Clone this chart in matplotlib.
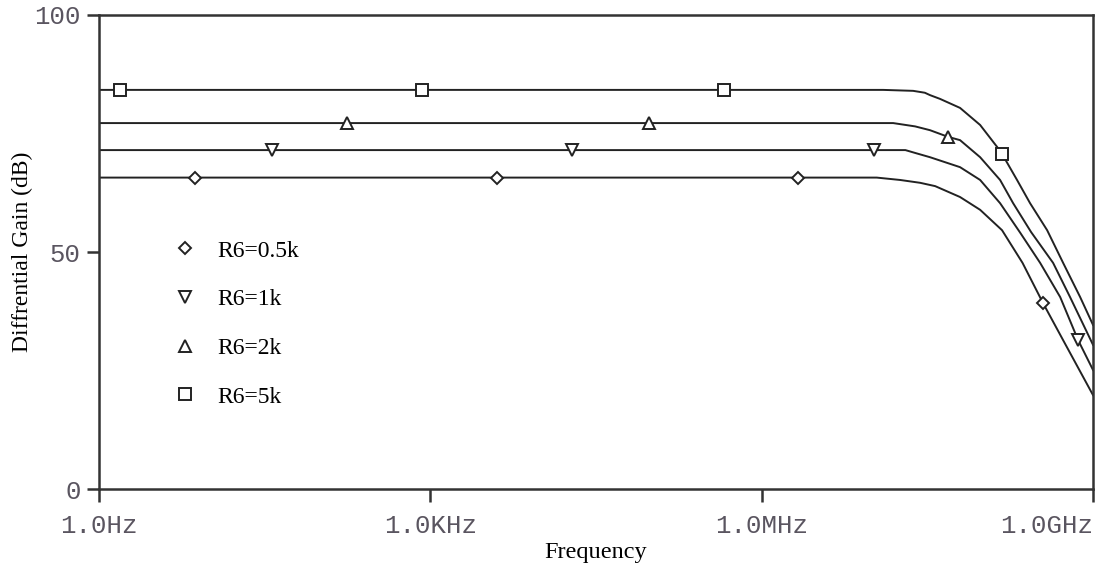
import matplotlib
matplotlib.use('Agg')
import matplotlib.pyplot as plt
from matplotlib.lines import Line2D
from matplotlib.ticker import FixedLocator, NullLocator

# gain curves: frequency (Hz) and gain (dB)
f_05k = [1, 1.1e7, 1.79e7, 2.72e7, 3.72e7, 6.25e7, 9.5e7, 1.5e8, 2.3e8, 3.53e8, 5.36e8, 1e9]
g_05k = [65.7, 65.7, 65.2, 64.6, 63.9, 61.6, 58.9, 54.6, 47.7, 39.2, 31.4, 19.8]

f_1k = [1, 2.0e7, 2.45e7, 3.34e7, 6.25e7, 9.5e7, 1.44e8, 2.2e8, 3.32e8, 5.04e8, 7.33e8, 1e9]
g_1k = [71.5, 71.5, 70.9, 70.0, 67.9, 65.2, 60.3, 54.0, 47.7, 40.5, 31.4, 25.1]

f_2k = [1, 1.55e7, 2.45e7, 3.34e7, 4.86e7, 6.25e7, 9.5e7, 1.44e8, 1.89e8, 2.75e8, 4.35e8, 6.19e8, 1e9]
g_2k = [77.2, 77.2, 76.5, 75.7, 74.3, 73.6, 70.0, 65.2, 60.3, 54.2, 47.7, 40.5, 30.4]

f_5k = [1, 1.26e7, 2.35e7, 3.0e7, 3.34e7, 4.12e7, 6.25e7, 9.5e7, 1.35e8, 1.5e8, 2.05e8, 2.69e8, 3.84e8, 5.36e8, 7.64e8, 1e9]
g_5k = [84.2, 84.2, 84.0, 83.6, 83.1, 82.3, 80.4, 76.8, 72.2, 70.7, 65.2, 60.3, 54.6, 47.7, 40.5, 34.6]

# marker positions
mf_05k = [7.4, 4.0e3, 2.13e6, 3.53e8]
mg_05k = [65.7, 65.7, 65.7, 39.2]
mf_1k = [36.6, 1.92e4, 1.04e7, 7.33e8]
mg_1k = [71.5, 71.5, 71.5, 31.4]
mf_2k = [175, 9.55e4, 4.86e7]
mg_2k = [77.2, 77.2, 74.3]
mf_5k = [1.55, 841, 4.56e5, 1.5e8]
mg_5k = [84.2, 84.2, 84.2, 70.7]

labels = ['R6=0.5k', 'R6=1k', 'R6=2k', 'R6=5k']
xticks = [1, 1e3, 1e6, 1e9]
xticklabels = ['1.0Hz', '1.0KHz', '1.0MHz', '1.0GHz']
yticks = [0, 50, 100]

fig = plt.figure(figsize=(10.97, 5.66), dpi=100)
ax = fig.add_axes([0.0902, 0.1360, 0.9062, 0.8375])

lc = '#222222'
curves = [(f_05k, g_05k, mf_05k, mg_05k, 'D', 6.5),
          (f_1k, g_1k, mf_1k, mg_1k, 'v', 8),
          (f_2k, g_2k, mf_2k, mg_2k, '^', 8),
          (f_5k, g_5k, mf_5k, mg_5k, 's', 9)]

handles = []
for f, g, mf, mg, m, ms in curves:
    ax.plot(f, g, color=lc, lw=1.4)
    ax.plot(mf, mg, ls='none', marker=m, ms=ms, mfc='white', mec=lc, mew=1.4)
    handles.append(Line2D([], [], ls='none', marker=m, ms=ms, mfc='white', mec=lc, mew=1.4))

ax.set_xscale('log')
ax.set_xlim(1, 1e9)
ax.set_ylim(0, 100)
ax.xaxis.set_major_locator(FixedLocator(xticks))
ax.xaxis.set_minor_locator(NullLocator())
ax.set_xticklabels(xticklabels)
ax.set_yticks(yticks)

for s in ax.spines.values():
    s.set_linewidth(1.8)
    s.set_color('#333333')
ax.tick_params(length=9, width=1.8, color='#333333', labelcolor='#5a5560',
               labelsize=18.5)
ax.tick_params(axis='x', pad=9)
ax.tick_params(axis='y', pad=4)
for t in ax.get_xticklabels() + ax.get_yticklabels():
    t.set_family('Liberation Mono')
ax.get_xticklabels()[-1].set_horizontalalignment('right')

ax.set_xlabel('Frequency', family='Liberation Serif', fontsize=17.5, labelpad=3)
ax.set_ylabel('Diffrential Gain (dB)', family='Liberation Serif', fontsize=17, labelpad=1)

ax.legend(handles, labels, loc='upper left', bbox_to_anchor=(0.053, 0.57),
          frameon=False, prop={'family': 'Liberation Serif', 'size': 17},
          labelspacing=1.15, handletextpad=0.9, handlelength=1.0)

fig.savefig('out.png', dpi=100)
